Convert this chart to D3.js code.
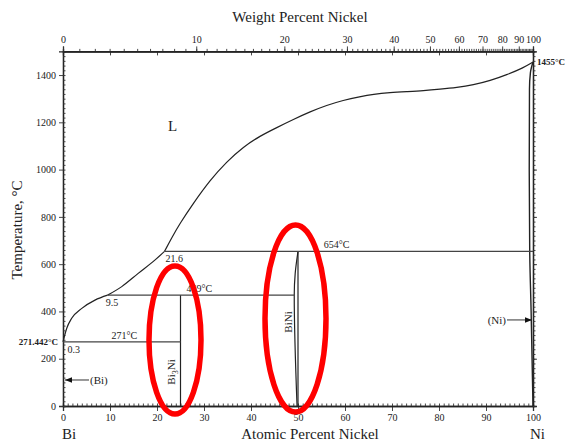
<!DOCTYPE html>
<html><head><meta charset="utf-8">
<script src="https://cdn.jsdelivr.net/npm/d3@7"></script>
<style>
body{margin:0;background:#fff;}
svg text{font-family:"Liberation Serif","Times New Roman",serif !important;fill:#222;}
</style></head>
<body><svg id="c" width="568" height="444"></svg>
<script>
// ---- data ----
const atTicks = [0,10,20,30,40,50,60,70,80,90,100];
const tempTicks = [0,200,400,600,800,1000,1200,1400];
const wtTicks = [0,10,20,30,40,50,60,70,80,90,100];
// liquidus segments [at% Ni, T °C]
const liqBi = [[0,271.4],[0.8,329],[1.85,371],[4.0,413],[6.8,448],[9.5,469]];
const liqMid = [[9.5,469],[12.5,505],[16.0,561],[19.6,618],[21.6,654]];
const liqNi = [[21.6,654],[23.2,714],[24.9,773],[27.7,857],[31.3,956],[34.8,1033],[38.4,1097],[41.9,1142],[45.5,1178],[49.0,1212],[52.6,1245],[56.1,1272],[59.6,1293],[63.2,1309],[66.0,1319],[69.6,1326],[73.1,1330],[76.7,1334],[80.2,1340],[83.8,1347],[87.3,1358],[90.9,1376],[94.4,1401],[97.9,1430],[100,1455]];
const niSolvus = [[100,1455],[99.45,1410],[99.25,1340],[99.2,1000],[99.3,654],[99.6,400],[100,0]];
const biNiLeft = [[50,654],[49.4,560],[49.2,469],[49.8,0]];
const biNiRight = [[50,0],[50,654]];
const bi3NiLine = [[25,0],[25,469]];
const isotherms = [ // [x1,x2,T]
  [0,25,271],[9.5,49.2,469],[21.6,100,654]
];
const pointLabels = [ // [text, at, T]
  ["0.3",0.3,271],["9.5",9.5,469],["21.6",21.6,654]
];
const tempLabels = [["271°C",10.3,271],["469°C",26.3,469],["654°C",55.5,654]];

// ---- setup ----
const svg = d3.select("#c");
const x = d3.scaleLinear([0,100],[63,533]);
const y = d3.scaleLinear([0,1500],[406,51.4]);
const MBi = 208.98, MNi = 58.69;
const wt2at = w => { const a=w/MNi, b=(100-w)/MBi; return 100*a/(a+b); };

const line = d3.line().x(d=>x(d[0])).y(d=>y(d[1]));
const curveX = d3.line().x(d=>x(d[0])).y(d=>y(d[1])).curve(d3.curveMonotoneX);
const curveB = d3.line().x(d=>x(d[0])).y(d=>y(d[1])).curve(d3.curveBasis);
const curveY = d3.line().x(d=>x(d[0])).y(d=>y(d[1])).curve(d3.curveMonotoneY);

// bottom
svg.append("g").attr("transform",`translate(0,${y(0)})`)
  .call(d3.axisBottom(x).tickValues(atTicks).tickSize(5).tickPadding(3).tickFormat(d3.format("d")));
svg.append("g").attr("transform",`translate(0,${y(0)})`)
  .call(d3.axisTop(x).tickValues(d3.range(0,101,1)).tickSize(2.5).tickFormat(""));
// top (inside at% ticks)
svg.append("g").attr("transform",`translate(0,${y(1500)})`)
  .call(d3.axisBottom(x).tickValues(atTicks).tickSize(4).tickFormat(""));
// top wt%
svg.append("g").attr("transform",`translate(0,${y(1500)})`)
  .call(d3.axisTop(x).tickValues(wtTicks.map(wt2at)).tickSize(5).tickPadding(3).tickFormat((d,i)=>wtTicks[i]));
svg.append("g").attr("transform",`translate(0,${y(1500)})`)
  .call(d3.axisTop(x).tickValues(d3.range(0,100,1).map(wt2at)).tickSize(2.5).tickFormat(""));
// left
svg.append("g").attr("transform",`translate(${x(0)},0)`)
  .call(d3.axisLeft(y).tickValues(tempTicks).tickSize(4).tickPadding(3).tickFormat(d3.format("d")));
svg.append("g").attr("transform",`translate(${x(0)},0)`)
  .call(d3.axisRight(y).tickValues(d3.range(0,1501,20)).tickSize(2.5).tickFormat(""));
// right
svg.append("g").attr("transform",`translate(${x(100)},0)`)
  .call(d3.axisRight(y).tickValues(tempTicks).tickSize(4).tickFormat(""));
svg.append("g").attr("transform",`translate(${x(100)},0)`)
  .call(d3.axisRight(y).tickValues(d3.range(0,1501,20)).tickSize(2.5).tickFormat(""));

svg.selectAll("g").attr("font-family",null);
svg.selectAll(".tick text").style("font-family","'Liberation Serif', serif").attr("font-size",10).attr("fill","#333");
svg.selectAll(".domain").attr("stroke","#222").attr("stroke-width",1.3);
svg.selectAll(".tick line").attr("stroke","#333").attr("stroke-width",0.9);

// phase lines
const pg = svg.append("g").attr("fill","none").attr("stroke","#222").attr("stroke-width",1.2);
[liqBi,liqMid].forEach(s=>pg.append("path").attr("d",curveX(s)));
pg.append("path").attr("d",curveB(liqNi));
pg.append("path").attr("d",curveY(niSolvus.slice().reverse())).attr("stroke-width",1.4);
pg.append("path").attr("d",curveY(biNiLeft.slice().reverse()));
pg.append("path").attr("d",line(biNiRight));
pg.append("path").attr("d",line(bi3NiLine));
isotherms.forEach(t=>pg.append("line").attr("x1",x(t[0])).attr("x2",x(t[1])).attr("y1",y(t[2])).attr("y2",y(t[2])).attr("stroke","#444"));

// labels
const T = (s,xx,yy,opt={})=>{
  const t=svg.append("text").attr("x",xx).attr("y",yy).text(s)
    .attr("font-size",opt.size||10).attr("text-anchor",opt.anchor||"start");
  if(opt.bold) t.attr("font-weight","bold");
  return t;
};
pointLabels.forEach(p=>T(p[0],x(p[1])+ (p[0]==="0.3"?3:(p[0]==="9.5"?-2:1)), y(p[2])+11));
tempLabels.forEach(p=>T(p[0],x(p[1]),y(p[2])-3));
T("L",168,131,{size:15});
T("271.442°C",58,y(271.4)+3,{size:9,anchor:"end",bold:true});
T("1455°C",537,y(1455)+3,{size:9,bold:true});
T("Weight Percent Nickel",300,22,{size:15,anchor:"middle"});
T("Atomic Percent Nickel",310,439,{size:15,anchor:"middle"});
T("Bi",62,439,{size:15});
T("Ni",530,439,{size:15});
svg.append("text").attr("transform","translate(22,230) rotate(-90)").attr("text-anchor","middle")
  .attr("font-size",15).text("Temperature, °C");
// compound labels
const b3 = svg.append("text").attr("transform","translate(175,372) rotate(-90)").attr("text-anchor","middle").attr("font-size",11);
b3.append("tspan").text("Bi");
b3.append("tspan").text("3").attr("font-size",8).attr("dy",3);
b3.append("tspan").text("Ni").attr("dy",-3);
svg.append("text").attr("transform","translate(292,322) rotate(-90)").attr("text-anchor","middle").attr("font-size",11).text("BiNi");

// arrows
const defs = svg.append("defs");
defs.append("marker").attr("id","ah").attr("viewBox","0 0 10 10").attr("refX",10).attr("refY",5)
  .attr("markerWidth",9).attr("markerHeight",7).attr("orient","auto-start-reverse")
  .append("path").attr("d","M0,1L10,5L0,9Z").attr("fill","#111");
svg.append("line").attr("x1",89).attr("x2",x(0)+2).attr("y1",y(110)).attr("y2",y(110))
  .attr("stroke","#333").attr("stroke-width",1).attr("marker-end","url(#ah)");
T("(Bi)",90,y(110)+4,{size:11});
svg.append("line").attr("x1",507).attr("x2",x(100)-1).attr("y1",y(364)).attr("y2",y(364))
  .attr("stroke","#333").attr("stroke-width",1).attr("marker-end","url(#ah)");
T("(Ni)",506,y(364)+4,{size:11,anchor:"end"});

// red highlight ellipses
svg.append("ellipse").attr("cx",175).attr("cy",340).attr("rx",26).attr("ry",74)
  .attr("fill","none").attr("stroke","#f00").attr("stroke-width",5.5);
svg.append("ellipse").attr("cx",295.5).attr("cy",318.5).attr("rx",30.5).attr("ry",93.5)
  .attr("fill","none").attr("stroke","#f00").attr("stroke-width",5.5);
</script></body></html>
